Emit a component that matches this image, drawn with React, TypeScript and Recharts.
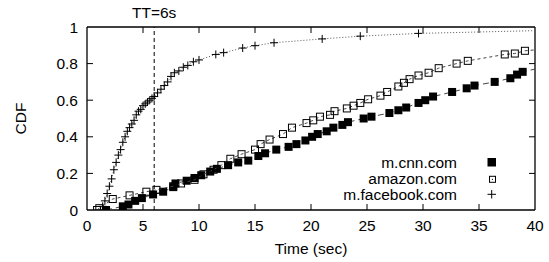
import React from 'react';
import { ScatterChart, Scatter, XAxis, YAxis, ReferenceLine } from 'recharts';

const xTicks = [0, 5, 10, 15, 20, 25, 30, 35, 40];
const yTicks = [0, 0.2, 0.4, 0.6, 0.8, 1];
const yTickLabels: Record<string, string> = { '0': '0', '0.2': '0.2', '0.4': '0.4', '0.6': '0.6', '0.8': '0.8', '1': '1' };

const seriesNames = ['m.cnn.com', 'amazon.com', 'm.facebook.com'];

const cnnTime = [1.7, 3.2, 3.7, 4.3, 4.9, 5.9, 6.8, 7.7, 7.9, 8.9, 9.6, 10.2, 11.0, 11.6, 12.6, 13.5, 14.4, 15.3, 15.9, 16.9, 18.0, 18.7, 19.5, 20.1, 20.6, 21.4, 22.0, 22.8, 23.3, 24.7, 25.4, 27.0, 27.8, 28.5, 29.6, 30.2, 30.9, 32.6, 33.9, 34.6, 36.4, 37.8, 38.4, 38.9, 40];
const cnnCdf = [0.0, 0.02, 0.03, 0.05, 0.065, 0.085, 0.1, 0.125, 0.145, 0.16, 0.175, 0.19, 0.21, 0.225, 0.245, 0.26, 0.27, 0.295, 0.31, 0.33, 0.345, 0.36, 0.38, 0.4, 0.415, 0.43, 0.45, 0.465, 0.48, 0.5, 0.51, 0.53, 0.545, 0.56, 0.585, 0.6, 0.62, 0.645, 0.665, 0.68, 0.7, 0.72, 0.74, 0.755, 0.77];

const amazonTime = [0.9, 1.1, 2.3, 3.8, 5.3, 6.2, 7.7, 8.4, 9.6, 10.4, 11.3, 12.0, 12.8, 13.8, 15.0, 15.5, 16.3, 17.5, 18.3, 19.6, 20.2, 20.8, 21.7, 22.1, 23.2, 23.8, 24.4, 25.1, 26.2, 26.8, 27.8, 28.3, 28.8, 29.6, 30.5, 31.4, 33.0, 34.0, 37.3, 38.2, 39.1, 40];
const amazonCdf = [0.0, 0.01, 0.06, 0.08, 0.1, 0.11, 0.13, 0.145, 0.165, 0.195, 0.22, 0.245, 0.28, 0.305, 0.33, 0.36, 0.385, 0.415, 0.45, 0.475, 0.49, 0.51, 0.52, 0.54, 0.555, 0.57, 0.585, 0.605, 0.625, 0.645, 0.675, 0.695, 0.715, 0.735, 0.75, 0.775, 0.8, 0.815, 0.85, 0.855, 0.87, 0.875];

const facebookTime = [1.2, 1.4, 1.6, 1.8, 2.0, 2.2, 2.4, 2.6, 2.8, 3.0, 3.2, 3.4, 3.6, 3.8, 4.0, 4.2, 4.4, 4.6, 4.8, 5.0, 5.2, 5.4, 5.6, 5.8, 6.0, 6.3, 6.6, 6.9, 7.2, 7.5, 7.8, 8.2, 8.6, 9.0, 9.5, 10.0, 11.5, 12.2, 13.9, 15.0, 16.7, 21.0, 24.4, 29.6, 40];
const facebookCdf = [0.0, 0.02, 0.05, 0.09, 0.13, 0.17, 0.22, 0.26, 0.3, 0.33, 0.37, 0.4, 0.43, 0.45, 0.47, 0.49, 0.52, 0.54, 0.55, 0.57, 0.58, 0.59, 0.6, 0.61, 0.62, 0.64, 0.66, 0.68, 0.7, 0.73, 0.75, 0.76, 0.78, 0.79, 0.81, 0.82, 0.85, 0.86, 0.885, 0.898, 0.914, 0.935, 0.95, 0.965, 0.98];

const zip = (ts: number[], vs: number[]) => ts.map((t, i) => ({ t, v: vs[i] }));
const cnnData = zip(cnnTime, cnnCdf);
const amazonData = zip(amazonTime, amazonCdf);
const facebookData = zip(facebookTime, facebookCdf);

const FONT = '"Liberation Sans", Arial, Helvetica, sans-serif';
const FS = 15.5;
const L = 87, R = 535, T = 27, B = 210;

const XTick = (props: any) => {
  const { x, payload } = props;
  const v = payload.value;
  const inner = v > 0 && v < 40;
  return (
    <g>
      {inner && <line x1={x} x2={x} y1={B} y2={B - 6} stroke="#000" />}
      {inner && <line x1={x} x2={x} y1={T} y2={T + 6} stroke="#000" />}
      <text x={x} y={231} textAnchor="middle" fontSize={FS} fontFamily={FONT} fill="#000">{v}</text>
    </g>
  );
};

const YTick = (props: any) => {
  const { y, payload } = props;
  const v = payload.value;
  const inner = v > 0 && v < 1;
  return (
    <g>
      {inner && <line x1={L} x2={L + 6} y1={y} y2={y} stroke="#000" />}
      {inner && <line x1={R} x2={R - 6} y1={y} y2={y} stroke="#000" />}
      <text x={78} y={y + 5.5} textAnchor="end" fontSize={FS} fontFamily={FONT} fill="#000">{yTickLabels[String(v)]}</text>
    </g>
  );
};

const FilledSquare = (p: any) => {
  if (p.payload && p.payload.t >= 40) return <g />;
  return <rect x={p.cx - 4} y={p.cy - 4} width={8} height={8} fill="#000" />;
};
const OpenSquare = (p: any) => {
  if (p.payload && p.payload.t >= 40) return <g />;
  return <rect x={p.cx - 3.5} y={p.cy - 3.5} width={7} height={7} fill="none" stroke="#000" strokeWidth={1} />;
};
const Cross = (p: any) => {
  if (p.payload && p.payload.t >= 40) return <g />;
  return (
    <g>
      <line x1={p.cx - 4} x2={p.cx + 4} y1={p.cy} y2={p.cy} stroke="#000" strokeWidth={1} />
      <line x1={p.cx} x2={p.cx} y1={p.cy - 4} y2={p.cy + 4} stroke="#000" strokeWidth={1} />
    </g>
  );
};

export default function App() {
  return (
    <div style={{ position: 'absolute', left: 0, top: 0, width: 549, height: 262, background: '#fff' }}>
      <ScatterChart width={549} height={262} margin={{ top: T, right: 549 - R, bottom: 0, left: 0 }}>
        <XAxis
          type="number"
          dataKey="t"
          domain={[0, 40]}
          ticks={xTicks}
          interval={0}
          axisLine={false}
          tickLine={false}
          tick={<XTick />}
          height={262 - B}
          allowDataOverflow
        />
        <YAxis
          type="number"
          dataKey="v"
          domain={[0, 1]}
          ticks={yTicks}
          interval={0}
          axisLine={false}
          tickLine={false}
          tick={<YTick />}
          width={L}
          allowDataOverflow
        />
        <ReferenceLine
          x={6}
          stroke="#000"
          strokeDasharray="4 3"
          label={{ value: 'TT=6s', position: 'top', offset: 9, fontSize: FS, fontFamily: FONT, fill: '#000' }}
        />
        <Scatter
          name={seriesNames[0]}
          data={cnnData}
          line={{ stroke: '#444', strokeDasharray: '6 4', strokeWidth: 1 }}
          lineType="joint"
          shape={<FilledSquare />}
          isAnimationActive={false}
        />
        <Scatter
          name={seriesNames[1]}
          data={amazonData}
          line={{ stroke: '#444', strokeDasharray: '3 3', strokeWidth: 1 }}
          lineType="joint"
          shape={<OpenSquare />}
          isAnimationActive={false}
        />
        <Scatter
          name={seriesNames[2]}
          data={facebookData}
          line={{ stroke: '#555', strokeDasharray: '1 2', strokeWidth: 1 }}
          lineType="joint"
          shape={<Cross />}
          isAnimationActive={false}
        />
        <ReferenceLine y={0} stroke="#000" strokeWidth={1.3} />
        <ReferenceLine y={1} stroke="#000" strokeWidth={1.3} />
        <ReferenceLine x={0} stroke="#000" strokeWidth={1.3} />
        <ReferenceLine x={40} stroke="#000" strokeWidth={1.3} />
      </ScatterChart>
      <svg width={549} height={262} style={{ position: 'absolute', left: 0, top: 0, pointerEvents: 'none' }}>
        <text x={20} y={118.5} transform="rotate(-90 20 118.5)" textAnchor="middle" dominantBaseline="central" fontSize={FS} fontFamily={FONT} fill="#000">CDF</text>
        <text x={311} y={254} textAnchor="middle" fontSize={FS} fontFamily={FONT} fill="#000">Time (sec)</text>
        <text x={457} y={167.5} textAnchor="end" fontSize={FS} fontFamily={FONT} fill="#000">{seriesNames[0]}</text>
        <text x={457} y={183.5} textAnchor="end" fontSize={FS} fontFamily={FONT} fill="#000">{seriesNames[1]}</text>
        <text x={457} y={199.5} textAnchor="end" fontSize={FS} fontFamily={FONT} fill="#000">{seriesNames[2]}</text>
        <rect x={487.5} y={158} width={8.5} height={8.5} fill="#000" />
        <rect x={489.5} y={176.3} width={6} height={6} fill="none" stroke="#000" />
        <circle cx={492.5} cy={179.3} r={0.6} fill="#000" />
        <line x1={487.5} x2={496} y1={194.3} y2={194.3} stroke="#000" />
        <line x1={491.7} x2={491.7} y1={190} y2={198.5} stroke="#000" />
      </svg>
    </div>
  );
}
